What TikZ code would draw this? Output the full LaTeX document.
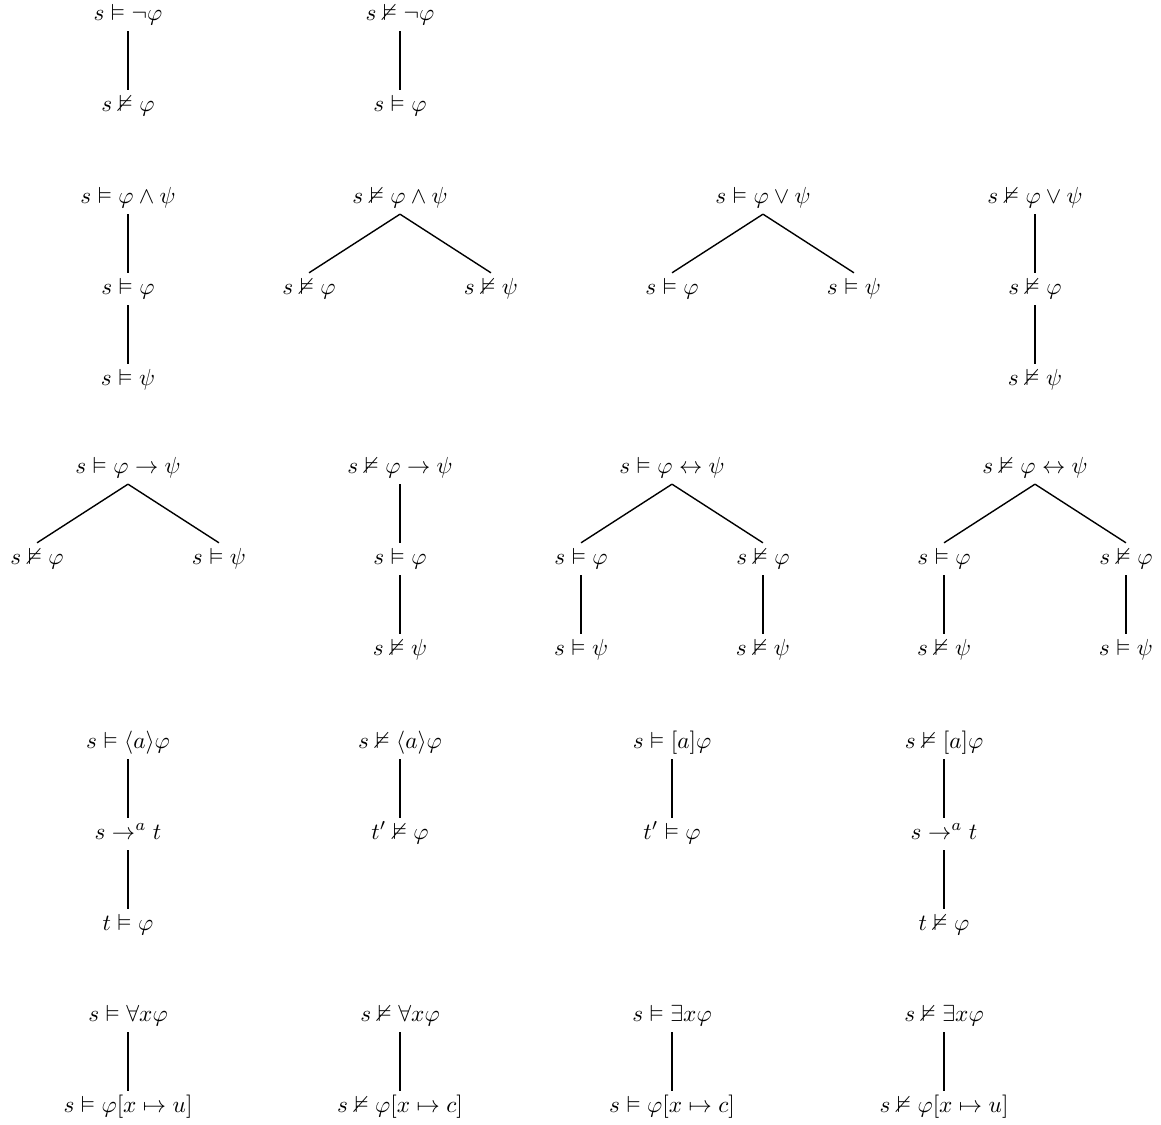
\documentclass[tikz,border=0pt]{standalone}
\usepackage{amssymb}
\usetikzlibrary{positioning}

\tikzset{
	judg/.style={inner sep=2pt,text height=7pt,text depth=2.5pt},
	branch/.style={line width=0.6pt}
}

\begin{document}
\begin{tikzpicture}[x=0.43pt,y=-0.43pt,node distance=39.1pt and 39.1pt,on grid,every node/.style={judg}]
	\useasboundingbox (0,0) rectangle (1161,1124);
	% negation
	\node (negT) at (128,15) {$s \vDash \neg\varphi$};
	\node[below=of negT] (negT1) {$s \nvDash \varphi$};
	\draw[branch] (negT) -- (negT1);
	\node (negF) at (400,15) {$s \nvDash \neg\varphi$};
	\node[below=of negF] (negF1) {$s \vDash \varphi$};
	\draw[branch] (negF) -- (negF1);
	% conjunction and disjunction
	\node (andT) at (128,198) {$s \vDash \varphi \wedge \psi$};
	\node[below=of andT] (andT1) {$s \vDash \varphi$};
	\node[below=of andT1] (andT2) {$s \vDash \psi$};
	\draw[branch] (andT) -- (andT1);
	\draw[branch] (andT1) -- (andT2);
	\node (andF) at (400,198) {$s \nvDash \varphi \wedge \psi$};
	\node[below left=of andF] (andF1) {$s \nvDash \varphi$};
	\node[below right=of andF] (andF2) {$s \nvDash \psi$};
	\draw[branch] (andF.south) -- (andF1.north);
	\draw[branch] (andF.south) -- (andF2.north);
	\node (orT) at (763,198) {$s \vDash \varphi \vee \psi$};
	\node[below left=of orT] (orT1) {$s \vDash \varphi$};
	\node[below right=of orT] (orT2) {$s \vDash \psi$};
	\draw[branch] (orT.south) -- (orT1.north);
	\draw[branch] (orT.south) -- (orT2.north);
	\node (orF) at (1035,198) {$s \nvDash \varphi \vee \psi$};
	\node[below=of orF] (orF1) {$s \nvDash \varphi$};
	\node[below=of orF1] (orF2) {$s \nvDash \psi$};
	\draw[branch] (orF) -- (orF1);
	\draw[branch] (orF1) -- (orF2);
	% implication and equivalence
	\node (impT) at (128,468) {$s \vDash \varphi \rightarrow \psi$};
	\node[below left=of impT] (impT1) {$s \nvDash \varphi$};
	\node[below right=of impT] (impT2) {$s \vDash \psi$};
	\draw[branch] (impT.south) -- (impT1.north);
	\draw[branch] (impT.south) -- (impT2.north);
	\node (impF) at (400,468) {$s \nvDash \varphi \rightarrow \psi$};
	\node[below=of impF] (impF1) {$s \vDash \varphi$};
	\node[below=of impF1] (impF2) {$s \nvDash \psi$};
	\draw[branch] (impF) -- (impF1);
	\draw[branch] (impF1) -- (impF2);
	\node (eqT) at (672,468) {$s \vDash \varphi \leftrightarrow \psi$};
	\node[below left=of eqT] (eqT1) {$s \vDash \varphi$};
	\node[below right=of eqT] (eqT2) {$s \nvDash \varphi$};
	\node[below=of eqT1] (eqT3) {$s \vDash \psi$};
	\node[below=of eqT2] (eqT4) {$s \nvDash \psi$};
	\draw[branch] (eqT.south) -- (eqT1.north);
	\draw[branch] (eqT.south) -- (eqT2.north);
	\draw[branch] (eqT1) -- (eqT3);
	\draw[branch] (eqT2) -- (eqT4);
	\node (eqF) at (1035,468) {$s \nvDash \varphi \leftrightarrow \psi$};
	\node[below left=of eqF] (eqF1) {$s \vDash \varphi$};
	\node[below right=of eqF] (eqF2) {$s \nvDash \varphi$};
	\node[below=of eqF1] (eqF3) {$s \nvDash \psi$};
	\node[below=of eqF2] (eqF4) {$s \vDash \psi$};
	\draw[branch] (eqF.south) -- (eqF1.north);
	\draw[branch] (eqF.south) -- (eqF2.north);
	\draw[branch] (eqF1) -- (eqF3);
	\draw[branch] (eqF2) -- (eqF4);
	% modalities
	\node (diaT) at (128,743) {$s \vDash \langle a\rangle\varphi$};
	\node[below=of diaT] (diaT1) {$s \rightarrow^{a} t$};
	\node[below=of diaT1] (diaT2) {$t \vDash \varphi$};
	\draw[branch] (diaT) -- (diaT1);
	\draw[branch] (diaT1) -- (diaT2);
	\node (diaF) at (400,743) {$s \nvDash \langle a\rangle\varphi$};
	\node[below=of diaF] (diaF1) {$t' \nvDash \varphi$};
	\draw[branch] (diaF) -- (diaF1);
	\node (boxT) at (672,743) {$s \vDash [a]\varphi$};
	\node[below=of boxT] (boxT1) {$t' \vDash \varphi$};
	\draw[branch] (boxT) -- (boxT1);
	\node (boxF) at (944,743) {$s \nvDash [a]\varphi$};
	\node[below=of boxF] (boxF1) {$s \rightarrow^{a} t$};
	\node[below=of boxF1] (boxF2) {$t \nvDash \varphi$};
	\draw[branch] (boxF) -- (boxF1);
	\draw[branch] (boxF1) -- (boxF2);
	% quantifiers
	\node (allT) at (128,1016) {$s \vDash \forall x\varphi$};
	\node[below=of allT] (allT1) {$s \vDash \varphi[x \mapsto u]$};
	\draw[branch] (allT) -- (allT1);
	\node (allF) at (400,1016) {$s \nvDash \forall x\varphi$};
	\node[below=of allF] (allF1) {$s \nvDash \varphi[x \mapsto c]$};
	\draw[branch] (allF) -- (allF1);
	\node (exT) at (672,1016) {$s \vDash \exists x\varphi$};
	\node[below=of exT] (exT1) {$s \vDash \varphi[x \mapsto c]$};
	\draw[branch] (exT) -- (exT1);
	\node (exF) at (944,1016) {$s \nvDash \exists x\varphi$};
	\node[below=of exF] (exF1) {$s \nvDash \varphi[x \mapsto u]$};
	\draw[branch] (exF) -- (exF1);
\end{tikzpicture}
\end{document}
